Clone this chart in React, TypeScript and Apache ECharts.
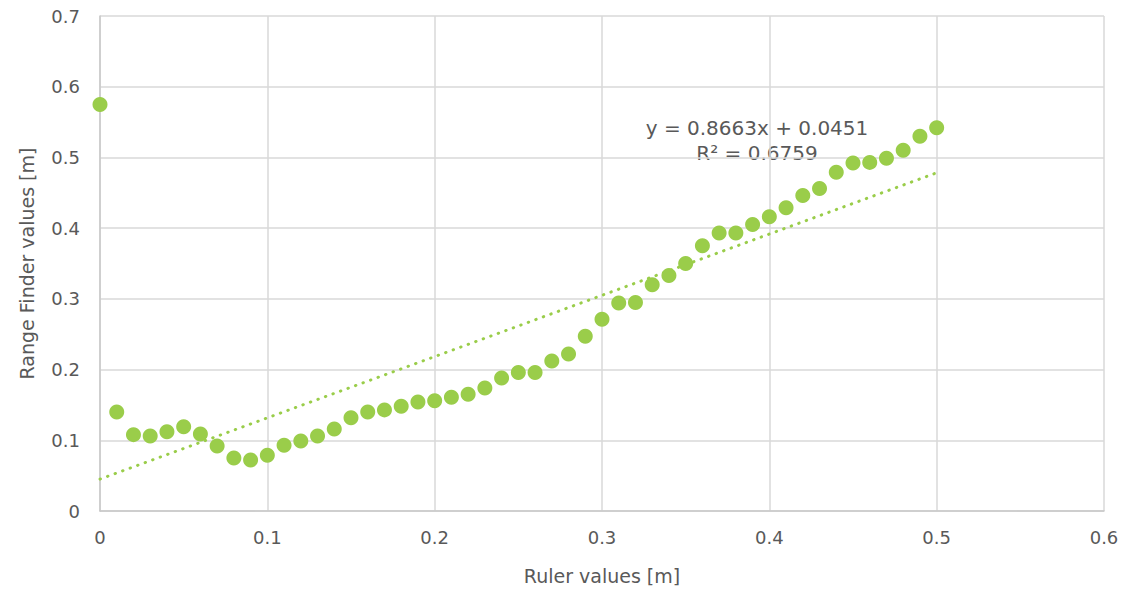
import React, { useEffect, useRef } from "react";
import * as echarts from "echarts";

const rulerValues = [
  0, 0.01, 0.02, 0.03, 0.04, 0.05, 0.06, 0.07, 0.08, 0.09,
  0.1, 0.11, 0.12, 0.13, 0.14, 0.15, 0.16, 0.17, 0.18, 0.19,
  0.2, 0.21, 0.22, 0.23, 0.24, 0.25, 0.26, 0.27, 0.28, 0.29,
  0.3, 0.31, 0.32, 0.33, 0.34, 0.35, 0.36, 0.37, 0.38, 0.39,
  0.4, 0.41, 0.42, 0.43, 0.44, 0.45, 0.46, 0.47, 0.48, 0.49, 0.5,
];
const rangeFinderValues = [
  0.575, 0.140, 0.108, 0.106, 0.112, 0.119, 0.109, 0.092, 0.075, 0.072,
  0.079, 0.093, 0.099, 0.106, 0.116, 0.132, 0.140, 0.143, 0.148, 0.154,
  0.156, 0.161, 0.165, 0.174, 0.188, 0.196, 0.196, 0.212, 0.222, 0.247,
  0.271, 0.294, 0.295, 0.320, 0.333, 0.350, 0.375, 0.393, 0.393, 0.405,
  0.416, 0.429, 0.446, 0.456, 0.479, 0.492, 0.493, 0.499, 0.510, 0.530, 0.542,
];
const trendSlope = 0.8663;
const trendIntercept = 0.0451;
const trendR2 = 0.6759;
const trendRange = [0, 0.5];

const GREEN = "#9ACD4A";
const TEXT = "#595959";
const FONT = "'DejaVu Sans', sans-serif";

export default function App() {
  const ref = useRef<HTMLDivElement>(null);
  useEffect(() => {
    if (!ref.current) return;
    const chart = echarts.init(ref.current, undefined, { renderer: "svg" });
    const points = rulerValues.map((x, i) => [x, rangeFinderValues[i]]);
    const trend = trendRange.map((x) => [x, trendSlope * x + trendIntercept]);
    chart.setOption({
      animation: false,
      backgroundColor: "#ffffff",
      grid: { left: 100, right: 31, top: 16, bottom: 77 },
      xAxis: {
        type: "value",
        min: 0,
        max: 0.6,
        interval: 0.1,
        name: "Ruler values [m]",
        nameLocation: "middle",
        nameGap: 55,
        nameTextStyle: { color: TEXT, fontSize: 19, fontFamily: FONT },
        axisLine: { show: true, lineStyle: { color: "#C8C8C8", width: 1.5 } },
        axisTick: { show: false },
        axisLabel: { color: TEXT, fontSize: 18, fontFamily: FONT, margin: 17 },
        splitLine: { show: true, lineStyle: { color: "#D9D9D9", width: 1.5 } },
      },
      yAxis: {
        type: "value",
        min: 0,
        max: 0.7,
        interval: 0.1,
        name: "Range Finder values [m]",
        nameLocation: "middle",
        nameGap: 64,
        nameTextStyle: { color: TEXT, fontSize: 19, fontFamily: FONT },
        axisLine: { show: true, lineStyle: { color: "#C8C8C8", width: 1.5 } },
        axisTick: { show: false },
        axisLabel: { color: TEXT, fontSize: 18, fontFamily: FONT, margin: 20 },
        splitLine: { show: true, lineStyle: { color: "#D9D9D9", width: 1.5 } },
      },
      series: [
        {
          type: "line",
          data: trend,
          showSymbol: false,
          symbol: "none",
          silent: true,
          z: 1,
          lineStyle: { color: GREEN, width: 3, type: [0.5, 7.5], cap: "round" },
        },
        {
          type: "scatter",
          data: points,
          symbolSize: 15,
          z: 2,
          itemStyle: { color: GREEN, opacity: 1 },
        },
      ],
      graphic: [
        {
          type: "text",
          x: 757,
          y: 128,
          style: {
            text: `y = ${trendSlope}x + ${trendIntercept}`,
            fill: TEXT,
            fontSize: 20,
            fontFamily: FONT,
            align: "center",
            verticalAlign: "middle",
          },
        },
        {
          type: "text",
          x: 757,
          y: 153,
          style: {
            text: `R² = ${trendR2}`,
            fill: TEXT,
            fontSize: 20,
            fontFamily: FONT,
            align: "center",
            verticalAlign: "middle",
          },
        },
      ],
    });
    return () => chart.dispose();
  }, []);
  return <div ref={ref} style={{ width: 1135, height: 590, position: "absolute", left: 0, top: 0 }} />;
}
